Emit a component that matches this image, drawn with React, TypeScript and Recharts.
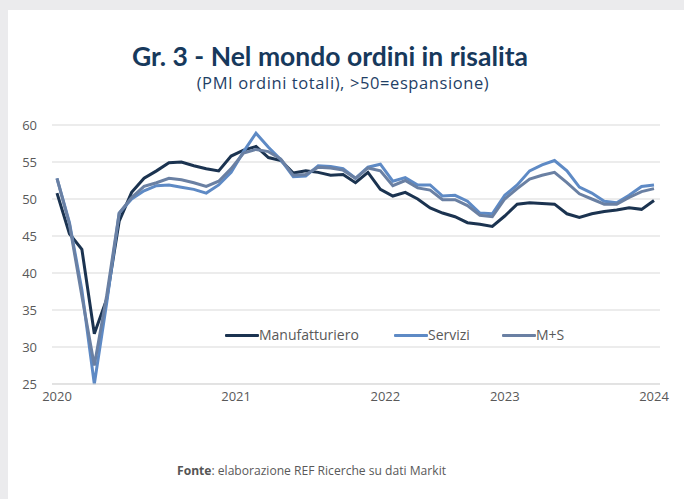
import React from "react";
import { LineChart, Line, XAxis, YAxis, CartesianGrid, Legend } from "recharts";

// monthly, Jan 2020 .. Jan 2024
const MONTHS = [
  "2020-01", "2020-02", "2020-03", "2020-04", "2020-05", "2020-06", "2020-07", "2020-08", "2020-09", "2020-10", "2020-11", "2020-12",
  "2021-01", "2021-02", "2021-03", "2021-04", "2021-05", "2021-06", "2021-07", "2021-08", "2021-09", "2021-10", "2021-11", "2021-12",
  "2022-01", "2022-02", "2022-03", "2022-04", "2022-05", "2022-06", "2022-07", "2022-08", "2022-09", "2022-10", "2022-11", "2022-12",
  "2023-01", "2023-02", "2023-03", "2023-04", "2023-05", "2023-06", "2023-07", "2023-08", "2023-09", "2023-10", "2023-11", "2023-12",
  "2024-01",
];

const MANUFATTURIERO = [
  50.8, 45.3, 43.2, 31.8, 36.5, 47.0, 50.9, 52.8, 53.8, 54.9, 55.0, 54.5,
  54.1, 53.8, 55.8, 56.6, 57.1, 55.6, 55.2, 53.5, 53.8, 53.6, 53.2, 53.3,
  52.2, 53.6, 51.3, 50.4, 50.9, 50.0, 48.8, 48.1, 47.6, 46.8, 46.6, 46.3,
  47.7, 49.3, 49.5, 49.4, 49.3, 48.0, 47.5, 48.0, 48.3, 48.5, 48.8, 48.6,
  49.8,
];

const SERVIZI = [
  52.8, 46.8, 37.7, 25.0, 36.0, 48.1, 50.0, 51.1, 51.8, 51.9, 51.6, 51.3,
  50.8, 51.9, 53.6, 56.4, 58.9, 57.0, 55.3, 53.0, 53.1, 54.5, 54.4, 54.1,
  52.8, 54.3, 54.7, 52.4, 52.9, 51.9, 51.9, 50.4, 50.5, 49.7, 48.1, 48.0,
  50.5, 51.9, 53.8, 54.6, 55.2, 53.8, 51.6, 50.8, 49.7, 49.5, 50.5, 51.7,
  51.9,
];

const MS = [
  52.8, 46.6, 36.9, 27.5, 37.0, 48.1, 50.2, 51.7, 52.2, 52.8, 52.6, 52.2,
  51.7, 52.4, 54.1, 56.2, 56.7, 56.4, 55.4, 53.2, 53.3, 54.3, 54.2, 53.9,
  52.8, 54.2, 53.8, 51.8, 52.5, 51.5, 51.2, 49.9, 49.9, 49.1, 47.8, 47.6,
  50.0, 51.4, 52.7, 53.2, 53.6, 52.2, 50.7, 50.0, 49.3, 49.3, 50.2, 51.0,
  51.4,
];

// year labels sit where the original axis puts them (month index)
const YEAR_TICKS = [0, 14.4, 26.4, 36, 48];
const YEAR_LABELS = ["2020", "2021", "2022", "2023", "2024"];
const Y_TICKS = [25, 30, 35, 40, 45, 50, 55, 60];

const SERIES = [
  { key: "manuf", name: "Manufatturiero", color: "#1b3350" },
  { key: "serv", name: "Servizi", color: "#5e8ac5" },
  { key: "ms", name: "M+S", color: "#6a80a3" },
];

const data = MONTHS.map((m, i) => ({
  i,
  month: m,
  manuf: MANUFATTURIERO[i],
  serv: SERVIZI[i],
  ms: MS[i],
}));

const FONT = "'Open Sans', sans-serif";
const GREY = "#595959";

const LEGEND_WIDTHS = [169, 108, 80];

function renderLegend() {
  return (
    <div style={{ display: "flex", fontFamily: FONT, fontSize: 14, color: GREY }}>
      {SERIES.map((s, i) => (
        <div key={s.key} style={{ display: "flex", alignItems: "center", width: LEGEND_WIDTHS[i] }}>
          <span style={{ display: "inline-block", width: 34, height: 3, background: s.color, borderRadius: 1 }} />
          <span style={{ lineHeight: "16px" }}>{s.name}</span>
        </div>
      ))}
    </div>
  );
}

export default function App() {
  return (
    <div style={{ position: "absolute", left: 0, top: 0, width: 684, height: 499, background: "#ebebed", overflow: "hidden" }}>
      <div style={{ position: "absolute", left: 8, top: 10, right: 0, bottom: 0, background: "#ffffff" }} />
      <div
        style={{
          position: "absolute", left: 0, width: 660, top: 40, textAlign: "center",
          fontFamily: "Lato, sans-serif", fontWeight: 700, fontSize: 26.5, color: "#17395c", lineHeight: "32px",
        }}
      >
        Gr. 3 - Nel mondo ordini in risalita
      </div>
      <div
        style={{
          position: "absolute", left: 0, width: 686, top: 73, textAlign: "center",
          fontFamily: FONT, fontSize: 16.5, letterSpacing: 0.6, color: "#1f3f66", lineHeight: "20px",
        }}
      >
        (PMI ordini totali), &gt;50=espansione)
      </div>
      <div style={{ position: "absolute", left: 0, top: 0 }}>
        <LineChart width={684} height={499} data={data} margin={{ top: 125, right: 24, bottom: 69, left: 0 }}>
          <CartesianGrid vertical={false} stroke="#d9d9d9" />
          <XAxis
            dataKey="i"
            type="number"
            domain={[0, 48]}
            ticks={YEAR_TICKS}
            tickFormatter={(v: number) => YEAR_LABELS[YEAR_TICKS.indexOf(v)] ?? ""}
            interval={0}
            padding={{ left: 5, right: 6 }}
            height={30}
            axisLine={{ stroke: "#d9d9d9" }}
            tickLine={false}
            tick={{ fontSize: 13, fill: GREY, fontFamily: FONT }}
          />
          <YAxis
            domain={[25, 60]}
            ticks={Y_TICKS}
            width={52}
            axisLine={false}
            tickLine={false}
            tickMargin={9}
            tick={{ fontSize: 13, fill: GREY, fontFamily: FONT }}
          />
          <Legend
            content={renderLegend}
            wrapperStyle={{ position: "absolute", top: 327, left: 225, width: 400 }}
          />
          {SERIES.map((s) => (
            <Line
              key={s.key}
              dataKey={s.key}
              name={s.name}
              type="linear"
              stroke={s.color}
              strokeWidth={3}
              dot={false}
              isAnimationActive={false}
            />
          ))}
        </LineChart>
      </div>
      <div style={{ position: "absolute", left: 177, top: 463, fontFamily: FONT, fontSize: 12.1, color: GREY, lineHeight: "16px" }}>
        <b style={{ color: "#555" }}>Fonte</b>: elaborazione REF Ricerche su dati Markit
      </div>
    </div>
  );
}
